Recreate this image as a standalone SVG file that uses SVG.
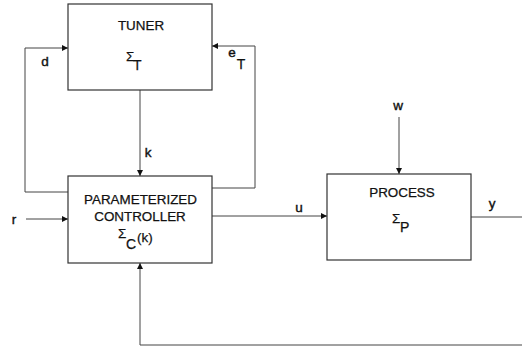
<svg xmlns="http://www.w3.org/2000/svg" width="522" height="351" viewBox="0 0 522 351">
<style>
.box{fill:#fff;stroke:#333;stroke-width:1.2}
.ln{fill:none;stroke:#444;stroke-width:1}
.t{font-family:"Liberation Sans",Arial,sans-serif;fill:#111;font-size:13.4px;stroke:#111;stroke-width:0.25}
.lab{font-family:"Liberation Sans",Arial,sans-serif;fill:#111;font-size:13.5px;stroke:#111;stroke-width:0.4}
.sub{font-family:"Liberation Sans",Arial,sans-serif;fill:#111;font-size:14px;stroke:#111;stroke-width:0.25}
</style>
<defs>
<marker id="ah" viewBox="0 0 10 10" refX="10" refY="5" markerWidth="7" markerHeight="6" markerUnits="userSpaceOnUse" orient="auto">
<path d="M0,0 L10,5 L0,10 z" fill="#111"/>
</marker>
</defs>
<rect width="522" height="351" fill="#fff"/>
<g id="connectors">
<path class="ln" d="M25,192 H68 M25,192 V48 H68" marker-end="url(#ah)"/>
<path class="ln" d="M212,188 H255 V46 H212" marker-end="url(#ah)"/>
<path class="ln" d="M140,90 V176" marker-end="url(#ah)"/>
<path class="ln" d="M26,219 H68" marker-end="url(#ah)"/>
<path class="ln" d="M212,216 H327" marker-end="url(#ah)"/>
<path class="ln" d="M399,117 V174" marker-end="url(#ah)"/>
<path class="ln" d="M471,217 H522"/>
<path class="ln" d="M522,345 H140 V263" marker-end="url(#ah)"/>
<text class="lab" x="45" y="66" text-anchor="middle">d</text>
<text class="lab" x="232" y="57" text-anchor="middle">e</text>
<text class="sub" x="241" y="69" text-anchor="middle">T</text>
<text class="lab" x="148" y="157" text-anchor="middle">k</text>
<text class="lab" x="14" y="224" text-anchor="middle">r</text>
<text class="lab" x="299" y="212" text-anchor="middle">u</text>
<text class="lab" x="398" y="110" text-anchor="middle">w</text>
<text class="lab" x="492" y="208" text-anchor="middle">y</text>
</g>
<g id="tuner">
<rect class="box" x="68" y="4" width="144" height="86"/>
<text class="t" x="141" y="30" text-anchor="middle">TUNER</text>
<text class="t" x="126" y="61">Σ</text>
<text class="sub" x="133" y="70">T</text>
</g>
<g id="controller">
<rect class="box" x="68" y="176" width="144" height="87"/>
<text class="t" x="140.5" y="204" text-anchor="middle">PARAMETERIZED</text>
<text class="t" x="140" y="221" text-anchor="middle">CONTROLLER</text>
<text class="t" x="118" y="238">Σ</text>
<text class="sub" x="126" y="249">C</text>
<text class="t" x="137" y="242">(k)</text>
</g>
<g id="process">
<rect class="box" x="327" y="174" width="144" height="86"/>
<text class="t" x="402" y="197" text-anchor="middle">PROCESS</text>
<text class="t" x="392" y="223">Σ</text>
<text class="sub" x="400" y="232">P</text>
</g>
</svg>
